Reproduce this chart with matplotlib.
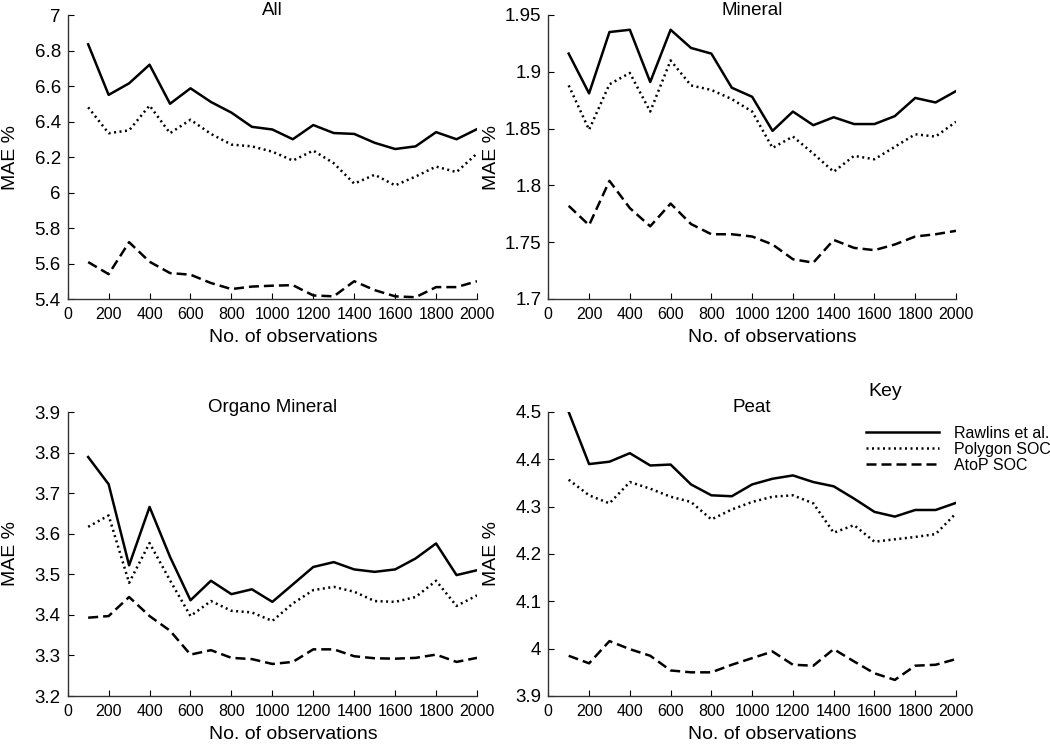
import numpy as np
import matplotlib
matplotlib.use("Agg")
import matplotlib.pyplot as plt
from matplotlib.lines import Line2D
from matplotlib.ticker import FormatStrFormatter

plt.rcParams['font.family'] = ['Liberation Sans', 'DejaVu Sans']

n_obs = [100, 200, 300, 400, 500, 600, 700, 800, 900, 1000,
         1100, 1200, 1300, 1400, 1500, 1600, 1700, 1800, 1900, 2000]

# All
all_rawlins = [6.835, 6.55, 6.615, 6.72, 6.50, 6.587, 6.51, 6.45, 6.37, 6.355,
               6.30, 6.38, 6.335, 6.33, 6.28, 6.245, 6.26, 6.34, 6.30, 6.357]
all_polygon = [6.48, 6.334, 6.35, 6.49, 6.334, 6.41, 6.33, 6.27, 6.26, 6.23,
               6.18, 6.236, 6.165, 6.05, 6.10, 6.04, 6.09, 6.146, 6.115, 6.22]
all_atop = [5.608, 5.54, 5.72, 5.61, 5.546, 5.537, 5.49, 5.456, 5.47, 5.475,
            5.478, 5.42, 5.415, 5.50, 5.45, 5.415, 5.41, 5.467, 5.467, 5.50]

# Mineral
min_rawlins = [1.916, 1.881, 1.935, 1.937, 1.891, 1.937, 1.921, 1.916, 1.886, 1.878,
               1.848, 1.865, 1.853, 1.860, 1.854, 1.854, 1.861, 1.877, 1.873, 1.883]
min_polygon = [1.888, 1.849, 1.889, 1.899, 1.865, 1.910, 1.888, 1.884, 1.876, 1.865,
               1.833, 1.843, 1.828, 1.812, 1.826, 1.823, 1.834, 1.845, 1.843, 1.856]
min_atop = [1.782, 1.765, 1.804, 1.780, 1.764, 1.784, 1.766, 1.757, 1.757, 1.755,
            1.748, 1.735, 1.732, 1.752, 1.745, 1.743, 1.748, 1.755, 1.757, 1.760]

# Organo Mineral
org_rawlins = [3.789, 3.722, 3.522, 3.666, 3.543, 3.436, 3.484, 3.451, 3.463, 3.432,
               3.475, 3.518, 3.530, 3.512, 3.506, 3.512, 3.539, 3.576, 3.498, 3.510]
org_polygon = [3.617, 3.645, 3.479, 3.577, 3.485, 3.397, 3.434, 3.410, 3.406, 3.385,
               3.428, 3.461, 3.469, 3.457, 3.434, 3.432, 3.444, 3.484, 3.422, 3.448]
org_atop = [3.393, 3.397, 3.444, 3.397, 3.361, 3.302, 3.313, 3.294, 3.291, 3.279,
            3.284, 3.315, 3.315, 3.298, 3.293, 3.292, 3.294, 3.302, 3.284, 3.294]

# Peat
peat_rawlins = [4.50, 4.390, 4.395, 4.413, 4.387, 4.389, 4.347, 4.324, 4.322, 4.347,
                4.359, 4.366, 4.352, 4.343, 4.317, 4.289, 4.279, 4.293, 4.293, 4.308]
peat_polygon = [4.357, 4.324, 4.307, 4.352, 4.338, 4.321, 4.310, 4.273, 4.294, 4.310,
                4.321, 4.324, 4.307, 4.245, 4.261, 4.226, 4.231, 4.236, 4.242, 4.286]
peat_atop = [3.985, 3.969, 4.016, 3.999, 3.985, 3.954, 3.950, 3.950, 3.966, 3.980,
             3.994, 3.966, 3.964, 3.999, 3.973, 3.948, 3.934, 3.964, 3.966, 3.978]

panels = [
    ("All", all_rawlins, all_polygon, all_atop, (5.4, 7.0), 0.2),
    ("Mineral", min_rawlins, min_polygon, min_atop, (1.7, 1.95), 0.05),
    ("Organo Mineral", org_rawlins, org_polygon, org_atop, (3.2, 3.9), 0.1),
    ("Peat", peat_rawlins, peat_polygon, peat_atop, (3.9, 4.5), 0.1),
]
series_labels = ["Rawlins et al.", "Polygon SOC", "AtoP SOC"]
styles = ['-', (0, (0.8, 1.4)), (0, (4, 2))]

fig = plt.figure(figsize=(10.5, 7.45), dpi=100)
W, H = 1050, 745
rects = [(67.7, 15, 477, 299), (548.3, 15, 956, 299),
         (67.7, 412, 477, 696), (548.3, 412, 956, 696)]

axes = []
for (title, r, p, a, ylim, step), (x0, y0, x1, y1) in zip(panels, rects):
    ax = fig.add_axes([x0 / W, 1 - y1 / H, (x1 - x0) / W, (y1 - y0) / H])
    for vals, ls in zip([r, p, a], styles):
        ax.plot(n_obs, vals, color='black', linestyle=ls, linewidth=1.8)
    ax.set_xlim(0, 2000)
    ax.set_ylim(*ylim)
    ax.set_xticks(np.arange(0, 2001, 200))
    ax.set_yticks(np.arange(ylim[0], ylim[1] + step / 2, step))
    ax.yaxis.set_major_formatter(FormatStrFormatter('%g'))
    ax.spines['top'].set_visible(False)
    ax.spines['right'].set_visible(False)
    for s in ['left', 'bottom']:
        ax.spines[s].set_linewidth(1.0)
        ax.spines[s].set_color('#333333')
    ax.tick_params(axis='x', direction='in', length=4, labelsize=11.5, pad=6)
    ax.tick_params(axis='y', direction='in', length=4, labelsize=13.5, pad=5)
    # fixed y turns off the automatic title lift
    ax.set_title(title, fontsize=13.5, y=1.0, pad=0)
    ax.set_ylabel("MAE %", fontsize=14)
    ax.set_xlabel("No. of observations", fontsize=14)
    ax.yaxis.set_label_coords(-0.118, 0.5)
    ax.xaxis.set_label_coords(0.55, -0.105)
    axes.append(ax)

fig.text(868 / W, 1 - 396 / H, "Key", fontsize=14, va='baseline', ha='left')
handles = [Line2D([], [], color='black', linestyle=ls, linewidth=1.8) for ls in styles]
axes[3].legend(handles, series_labels, loc='upper left',
               bbox_to_anchor=(866 / W, 1 - 426 / H), bbox_transform=fig.transFigure,
               frameon=False, fontsize=11.5, handlelength=4.6, handletextpad=0.9,
               labelspacing=0.05, borderpad=0, borderaxespad=0)

fig.savefig("out.png", dpi=100)
